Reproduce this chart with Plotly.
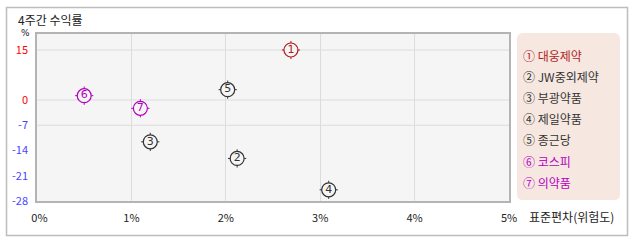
import plotly.graph_objects as go

# ---- data ----
names = ["대웅제약", "JW중외제약", "부광약품", "제일약품", "종근당", "코스피", "의약품"]
labels = ["①", "②", "③", "④", "⑤", "⑥", "⑦"]
digits = ["1", "2", "3", "4", "5", "6", "7"]
risk = [2.69, 2.12, 1.20, 3.09, 2.02, 0.50, 1.095]      # 표준편차 (%)
ret = [15.0, -16.2, -11.6, -24.9, 3.1, 1.3, -2.3]        # 4주간 수익률 (%)
colors = ["#b01e1e", "#333333", "#333333", "#333333", "#333333", "#b400c0", "#b400c0"]
y_ticks = [15, 0, -7, -14, -21, -28]
y_grid = [15, 0, -7]
x_ticks = [0, 1, 2, 3, 4, 5]
title = "4주간 수익률"
x_title = "표준편차(위험도)"

W, H = 638, 242
L, R, T, B = 37, 509, 34, 201          # plot area in px
POS_K = (50 / 15) / (101 / 28)          # positive side is drawn at a smaller scale


def ty(v):
    return v * POS_K if v > 0 else v


def px(x):
    return (x - L) / (R - L)


def py(y):
    return (B - y) / (B - T)


FONT = "Noto Sans CJK KR, Noto Sans, DejaVu Sans"

ys = [ty(v) for v in ret]
fig = go.Figure()
fig.add_trace(go.Scatter(x=risk, y=ys, mode="markers", hoverinfo="skip",
                         marker=dict(symbol="cross-thin-open", size=13,
                                     line=dict(color=colors, width=1), color=colors)))
fig.add_trace(go.Scatter(x=risk, y=ys, mode="markers", hoverinfo="skip",
                         marker=dict(symbol="circle", size=14, color="#f5f5f5",
                                     line=dict(color=colors, width=1.2))))
fig.add_trace(go.Scatter(x=risk, y=ys, mode="text", text=digits, hoverinfo="skip",
                         textposition="middle center",
                         textfont=dict(family="DejaVu Sans", size=11, color=colors)))

ytext = []
for v in y_ticks:
    c = "#ff0000" if v >= 0 else "#4646ff"
    ytext.append(f"<span style='color:{c}'>{v}</span>")

xtext = [f"{v}%" for v in x_ticks]
xtext[0] = "\u00a0\u00a00%"

shapes = []
for g in y_grid:
    shapes.append(dict(type="line", xref="paper", x0=0, x1=1, yref="y", y0=ty(g), y1=ty(g),
                       line=dict(color="#dcdcdc", width=1), layer="below"))
# outer frame
shapes.append(dict(type="rect", xref="paper", yref="paper",
                   x0=px(6.5), x1=px(627.5), y0=py(7.5), y1=py(235.5),
                   line=dict(color="#bdbdbd", width=1.5), layer="below"))
# legend box (rounded)
lx0, lx1, ly0, ly1, r = px(517), px(620), py(200), py(33), 6
rx, ry = r / (R - L), r / (B - T)
path = (f"M {lx0+rx},{ly1} L {lx1-rx},{ly1} Q {lx1},{ly1} {lx1},{ly1-ry} "
        f"L {lx1},{ly0+ry} Q {lx1},{ly0} {lx1-rx},{ly0} L {lx0+rx},{ly0} "
        f"Q {lx0},{ly0} {lx0},{ly0+ry} L {lx0},{ly1-ry} Q {lx0},{ly1} {lx0+rx},{ly1} Z")
shapes.append(dict(type="path", xref="paper", yref="paper", path=path,
                   fillcolor="#f6e8e1", line=dict(width=0), layer="below"))

ann = [
    dict(text=title, xref="paper", yref="paper", x=px(16), y=py(19), xanchor="left",
         yanchor="middle", showarrow=False, font=dict(family=FONT, size=12, color="#222222")),
    dict(text="%", xref="paper", yref="paper", x=px(25), y=py(40), xanchor="center",
         yanchor="bottom", showarrow=False, font=dict(family="DejaVu Sans", size=9, color="#222222")),
    dict(text=x_title, xref="paper", yref="paper", x=px(527), y=py(216), xanchor="left",
         yanchor="middle", showarrow=False, font=dict(family=FONT, size=12, color="#222222")),
]
for i, (lab, nm, c) in enumerate(zip(labels, names, colors)):
    yy = 55 + i * 21.2
    ann.append(dict(text=f"{lab} {nm}", xref="paper", yref="paper", x=px(521), y=py(yy),
                    xanchor="left", yanchor="middle", showarrow=False,
                    font=dict(family=FONT, size=12, color=c)))

fig.update_layout(
    width=W, height=H, margin=dict(l=L, r=W - R, t=T, b=H - B),
    paper_bgcolor="#ffffff", plot_bgcolor="#f5f5f5", showlegend=False,
    font=dict(family=FONT, size=11, color="#222222"),
    shapes=shapes, annotations=ann,
    xaxis=dict(range=[0, 5], tickvals=x_ticks, ticktext=xtext, showgrid=True,
               gridcolor="#dcdcdc", gridwidth=1, zeroline=False, showline=True,
               linecolor="#b4b4b4", linewidth=1.5, mirror=True, ticks="",
               ticklabelstandoff=6, fixedrange=True),
    yaxis=dict(range=[-28, (B - T) * 28 / 101 - 28], tickvals=[ty(v) for v in y_ticks],
               ticktext=ytext, showgrid=False, zeroline=False, showline=True,
               linecolor="#b4b4b4", linewidth=1.5, mirror=True, ticks="",
               ticklabelstandoff=5, fixedrange=True),
)
fig.write_html("out.html", config={"displayModeBar": False})
